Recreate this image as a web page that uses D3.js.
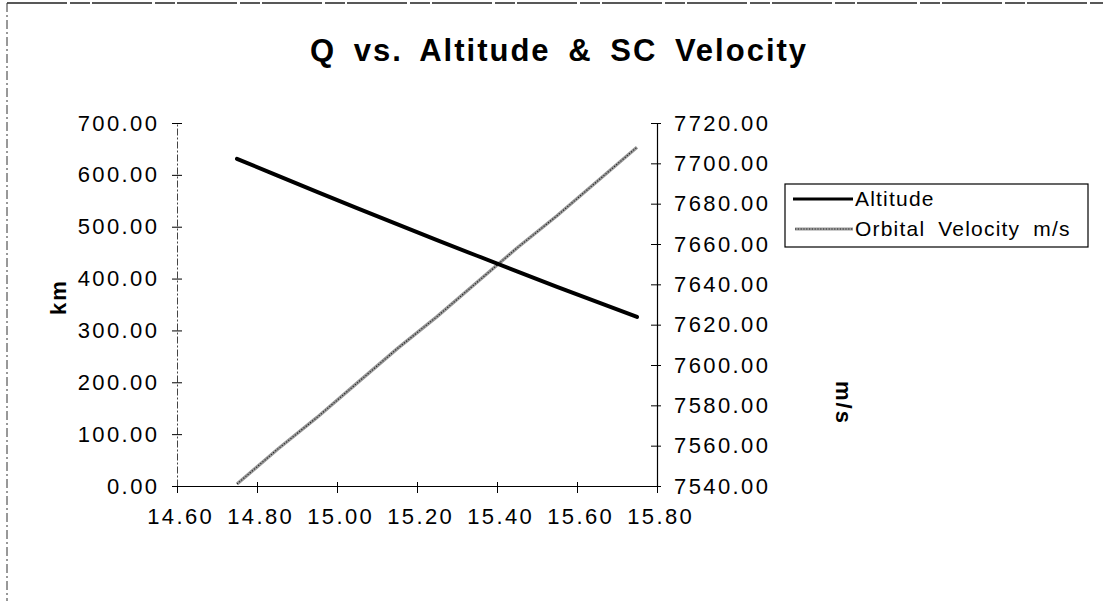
<!DOCTYPE html>
<html>
<head>
<meta charset="utf-8">
<script src="https://cdn.jsdelivr.net/npm/d3@7"></script>
<style>
  html, body { margin: 0; padding: 0; background: #fff; }
  svg { display: block; }
  text { font-family: "Liberation Sans", Arial, Helvetica, sans-serif; fill: #000; }
</style>
</head>
<body>
<svg id="chart" width="1103" height="601"></svg>
<script>
// ---- data ----
const q = [14.75, 14.85, 14.95, 15.05, 15.15, 15.25, 15.35, 15.45, 15.55, 15.65, 15.75];
const altitude = [631, 599, 567, 536, 505, 474, 444, 414, 384, 355, 326];
const velocity = [7541, 7558, 7574, 7591, 7608, 7624, 7641, 7658, 7674, 7691, 7708];
const xTicks = [14.6, 14.8, 15.0, 15.2, 15.4, 15.6, 15.8];
const leftTicks = [0, 100, 200, 300, 400, 500, 600, 700];
const rightTicks = [7540, 7560, 7580, 7600, 7620, 7640, 7660, 7680, 7700, 7720];
const seriesNames = ["Altitude", "Orbital Velocity m/s"];
const titleText = "Q vs. Altitude & SC Velocity";
const leftTitle = "km";
const rightTitle = "m/s";

// ---- layout ----
const svg = d3.select("#chart");
const L = 177, R = 657, T = 123, B = 486;

const x = d3.scaleLinear().domain([14.6, 15.8]).range([L, R]);
const yL = d3.scaleLinear().domain([0, 700]).range([B, T]);
const yR = d3.scaleLinear().domain([7540, 7720]).range([B, T]);

// frame (top and left edges of the scanned page)
svg.append("line").attr("x1", 7).attr("x2", 1103).attr("y1", 3).attr("y2", 3)
  .attr("stroke", "#222").attr("stroke-width", 1.4).attr("stroke-dasharray", "60,3,20,2");
svg.append("line").attr("x1", 7).attr("x2", 7).attr("y1", 3).attr("y2", 601)
  .attr("stroke", "#333").attr("stroke-width", 1).attr("stroke-dasharray", "9,3,2,3");

// title
svg.append("text").attr("x", 559).attr("y", 61).attr("text-anchor", "middle")
  .style("font-size", "31px").style("font-weight", "bold")
  .style("letter-spacing", "2px").style("word-spacing", "7px")
  .text(titleText);

const fmt = d3.format(".2f");
const tickFont = "22px";
const ls = 2.4;

// x axis
const gx = svg.append("g").attr("transform", `translate(0,${B})`)
  .call(d3.axisBottom(x).tickValues(xTicks).tickFormat(fmt).tickSize(7).tickSizeOuter(0).tickPadding(15));
gx.select(".domain").attr("stroke", "#000").attr("stroke-width", 1.2);
gx.selectAll(".tick line").attr("y1", -4).attr("stroke", "#000");
gx.selectAll(".tick text").style("font-size", tickFont).style("letter-spacing", ls + "px")
  .attr("dx", ls / 2 + 2).attr("fill", "#000");

// left axis
const gl = svg.append("g").attr("transform", `translate(${L},0)`)
  .call(d3.axisLeft(yL).tickValues(leftTicks).tickFormat(fmt).tickSize(5).tickSizeOuter(0).tickPadding(15));
gl.select(".domain").attr("stroke", "#444").attr("stroke-width", 1).attr("stroke-dasharray", "7,2,2,2");
gl.selectAll(".tick line").attr("x2", -5).attr("x1", 5).attr("stroke", "#000");
gl.selectAll(".tick text").style("font-size", tickFont).style("letter-spacing", ls + "px")
  .attr("dx", ls).attr("fill", "#000");

// right axis
const gr = svg.append("g").attr("transform", `translate(${R},0)`)
  .call(d3.axisRight(yR).tickValues(rightTicks).tickFormat(fmt).tickSize(5).tickSizeOuter(0).tickPadding(12));
gr.select(".domain").attr("stroke", "#000").attr("stroke-width", 1.2);
gr.selectAll(".tick line").attr("x1", -6).attr("x2", 4).attr("stroke", "#000");
gr.selectAll(".tick text").style("font-size", tickFont).style("letter-spacing", ls + "px")
  .attr("fill", "#000");

// axis titles
svg.append("text").attr("transform", "translate(66,297) rotate(-90)")
  .attr("text-anchor", "middle").style("font-size", "22px").style("font-weight", "bold")
  .style("letter-spacing", "2px").text(leftTitle);
svg.append("text").attr("transform", "translate(836,403) rotate(90)")
  .attr("text-anchor", "middle").style("font-size", "22px").style("font-weight", "bold")
  .style("letter-spacing", "2px").text(rightTitle);

// lines
const altLine = d3.line().x((d, i) => x(q[i])).y(d => yL(d));
const velLine = d3.line().x((d, i) => x(q[i])).y(d => yR(d));

svg.append("path").datum(velocity).attr("d", velLine).attr("fill", "none")
  .attr("stroke", "#9a9a9a").attr("stroke-width", 3.4);
svg.append("path").datum(velocity).attr("d", velLine).attr("fill", "none")
  .attr("stroke", "#222").attr("stroke-width", 1.1).attr("stroke-dasharray", "1.2,1.6");

svg.append("path").datum(altitude).attr("d", altLine).attr("fill", "none")
  .attr("stroke", "#000").attr("stroke-width", 4).attr("stroke-linecap", "round");

// legend
const lg = svg.append("g");
lg.append("rect").attr("x", 785).attr("y", 184).attr("width", 303).attr("height", 63)
  .attr("fill", "#fff").attr("stroke", "#000").attr("stroke-width", 1.2);
lg.append("line").attr("x1", 793).attr("x2", 853).attr("y1", 199).attr("y2", 199)
  .attr("stroke", "#000").attr("stroke-width", 3);
lg.append("line").attr("x1", 795).attr("x2", 853).attr("y1", 229).attr("y2", 229)
  .attr("stroke", "#9a9a9a").attr("stroke-width", 3);
lg.append("line").attr("x1", 795).attr("x2", 853).attr("y1", 229).attr("y2", 229)
  .attr("stroke", "#222").attr("stroke-width", 1.1).attr("stroke-dasharray", "1.2,1.6");
lg.selectAll("text.leg").data(seriesNames).enter().append("text").attr("class", "leg")
  .attr("x", 855).attr("y", (d, i) => 206 + i * 30)
  .style("font-size", "21px").style("letter-spacing", "1.2px").style("word-spacing", "6px")
  .text(d => d);
</script>
</body>
</html>
